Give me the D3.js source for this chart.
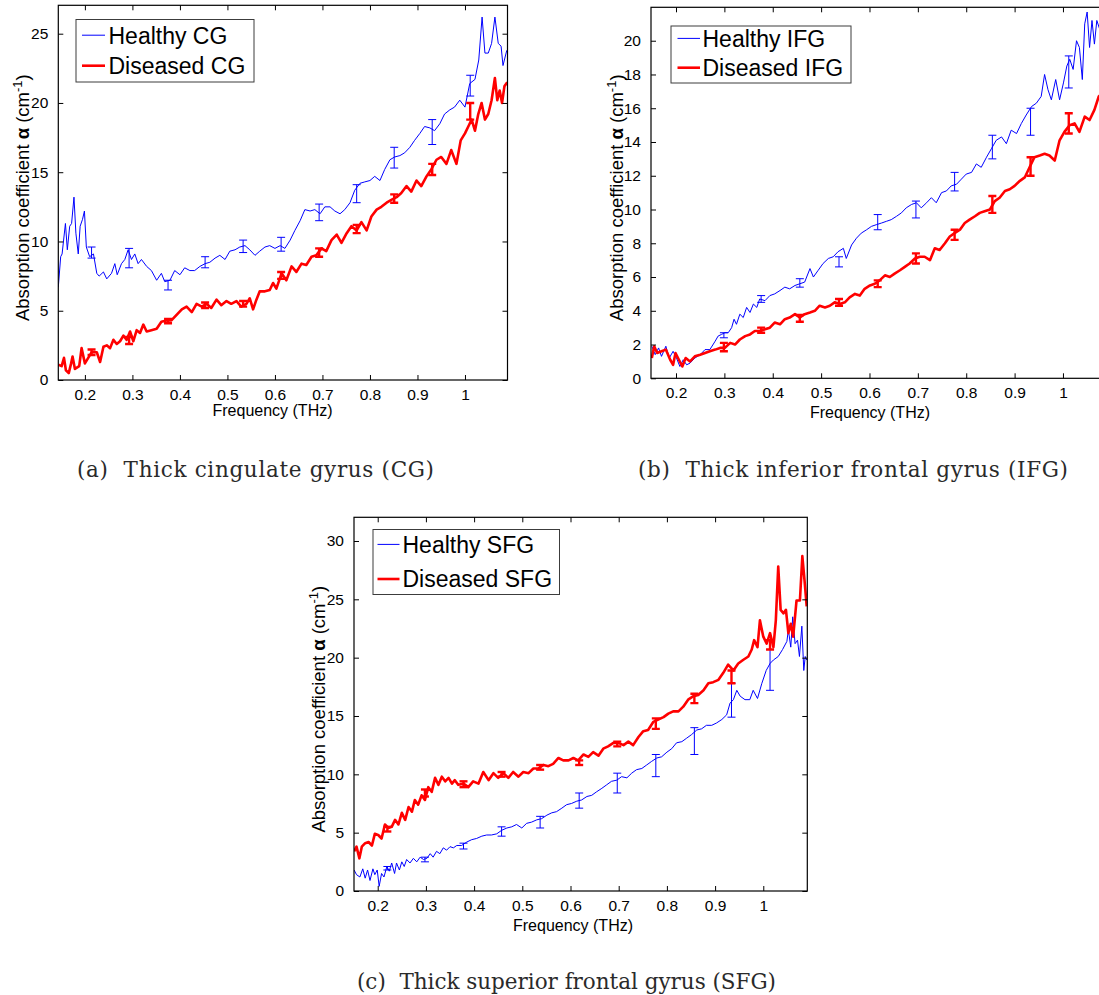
<!DOCTYPE html>
<html>
<head>
<meta charset="utf-8">
<script src="https://cdn.jsdelivr.net/npm/d3@7"></script>
<style>
  html, body { margin: 0; padding: 0; background: #fff; }
  svg { display: block; }
  text { font-family: "Liberation Sans", Arial, sans-serif; }
  .cap { font-family: "DejaVu Serif", "Liberation Serif", serif; white-space: pre; }
</style>
</head>
<body>
<svg id="chart" width="1099" height="995"></svg>
<script>
// ---------------- DATA ----------------
const xTicks = [0.2, 0.3, 0.4, 0.5, 0.6, 0.7, 0.8, 0.9, 1];
const xTickLabels = ["0.2", "0.3", "0.4", "0.5", "0.6", "0.7", "0.8", "0.9", "1"];
const yTicksCG = [0, 5, 10, 15, 20, 25];
const yTicksIFG = [0, 2, 4, 6, 8, 10, 12, 14, 16, 18, 20];
const yTicksSFG = [0, 5, 10, 15, 20, 25, 30];
const seriesNames = ["Healthy", "Diseased"];
const regions = ["CG", "IFG", "SFG"];
const captions = ["(a)  Thick cingulate gyrus (CG)", "(b)  Thick inferior frontal gyrus (IFG)", "(c)  Thick superior frontal gyrus (SFG)"];
const xLabel = "Frequency (THz)";

// [frequency THz, absorption coefficient cm^-1]
const healthyCG = [[0.144,6.7],[0.149,8.9],[0.152,9.1],[0.159,11.3],[0.163,9.4],[0.168,11.1],[0.172,11.3],[0.177,13.2],[0.181,10.6],[0.186,9.1],[0.19,11.1],[0.195,11.6],[0.199,12.2],[0.203,9.6],[0.21,8.9],[0.218,9.1],[0.225,7.7],[0.23,7.5],[0.239,7.8],[0.246,7.3],[0.256,7.7],[0.263,8.4],[0.268,7.6],[0.277,8.4],[0.284,8.7],[0.291,9.4],[0.298,8.7],[0.305,9.1],[0.312,8.4],[0.319,8.7],[0.33,8.2],[0.34,7.9],[0.351,7.2],[0.361,7.7],[0.368,7.1],[0.379,7.2],[0.389,7.9],[0.4,7.6],[0.41,8.1],[0.421,7.9],[0.431,7.9],[0.442,8.2],[0.453,8.4],[0.463,8.5],[0.474,8.8],[0.484,9.0],[0.495,8.7],[0.505,9.3],[0.516,9.4],[0.526,9.6],[0.537,9.7],[0.547,9.4],[0.558,9.0],[0.568,9.3],[0.579,9.6],[0.589,9.7],[0.6,9.5],[0.611,9.7],[0.621,9.5],[0.632,10.1],[0.642,10.8],[0.653,11.5],[0.663,12.3],[0.674,12.2],[0.684,12.3],[0.695,12.0],[0.705,12.5],[0.716,12.5],[0.726,12.2],[0.737,12.0],[0.747,12.3],[0.758,12.8],[0.768,13.7],[0.779,14.2],[0.789,14.3],[0.8,14.4],[0.81,14.7],[0.821,14.4],[0.831,15.2],[0.842,15.9],[0.852,16.1],[0.863,16.2],[0.873,16.4],[0.884,16.8],[0.894,17.3],[0.905,17.8],[0.915,18.3],[0.926,18.2],[0.936,18.0],[0.947,18.5],[0.957,19.2],[0.968,19.5],[0.978,19.7],[0.989,20.2],[1.0,19.7],[1.01,21.4],[1.021,21.7],[1.029,23.1],[1.036,26.2],[1.042,23.6],[1.049,23.6],[1.056,24.3],[1.063,26.2],[1.07,24.3],[1.076,24.1],[1.08,22.7],[1.088,23.8]];
const diseasedCG = [[0.144,1.1],[0.151,1.0],[0.156,1.6],[0.16,0.7],[0.166,0.5],[0.171,1.2],[0.174,1.7],[0.179,0.8],[0.188,1.0],[0.193,2.3],[0.2,1.2],[0.207,1.6],[0.214,2.0],[0.225,2.0],[0.232,1.3],[0.239,2.4],[0.246,2.5],[0.253,2.3],[0.26,2.9],[0.267,2.6],[0.274,2.8],[0.281,3.2],[0.288,2.9],[0.295,3.5],[0.302,2.8],[0.309,3.6],[0.316,3.4],[0.323,4.0],[0.33,3.5],[0.34,3.6],[0.351,3.7],[0.361,4.2],[0.372,4.3],[0.382,4.3],[0.393,4.7],[0.404,5.1],[0.414,5.3],[0.425,4.9],[0.435,5.5],[0.446,5.3],[0.456,5.5],[0.466,5.2],[0.477,5.8],[0.487,5.4],[0.498,5.7],[0.508,5.5],[0.519,5.7],[0.529,5.3],[0.54,5.5],[0.547,5.9],[0.554,5.1],[0.561,5.8],[0.568,6.4],[0.579,6.4],[0.589,6.5],[0.596,7.0],[0.603,6.6],[0.614,7.7],[0.624,7.2],[0.635,8.2],[0.645,7.8],[0.656,8.4],[0.666,8.3],[0.677,8.9],[0.687,9.0],[0.698,9.5],[0.708,9.3],[0.719,10.1],[0.73,10.5],[0.74,9.9],[0.751,10.6],[0.761,11.1],[0.772,10.8],[0.782,11.4],[0.793,10.8],[0.803,11.8],[0.814,12.3],[0.824,12.5],[0.835,12.8],[0.845,13.0],[0.856,13.2],[0.866,13.5],[0.877,14.0],[0.887,13.6],[0.898,14.4],[0.908,14.0],[0.919,14.7],[0.929,15.2],[0.94,15.9],[0.95,16.1],[0.961,15.6],[0.971,16.6],[0.982,15.6],[0.991,17.3],[1.0,17.8],[1.007,18.3],[1.014,18.8],[1.021,18.0],[1.028,19.2],[1.035,20.0],[1.042,18.8],[1.049,19.2],[1.056,20.2],[1.063,21.8],[1.068,20.2],[1.073,20.9],[1.078,20.0],[1.083,21.2],[1.089,21.5]];
const healthyIFG = [[0.15,1.9],[0.157,1.4],[0.164,1.8],[0.17,1.3],[0.179,1.9],[0.186,1.2],[0.194,1.6],[0.201,1.2],[0.208,0.7],[0.215,1.1],[0.222,0.8],[0.229,0.9],[0.239,1.2],[0.25,1.4],[0.26,1.7],[0.27,1.7],[0.281,2.2],[0.287,2.5],[0.294,2.6],[0.301,2.7],[0.308,2.7],[0.315,3.0],[0.32,3.5],[0.325,3.2],[0.332,3.8],[0.339,3.6],[0.346,4.2],[0.353,3.9],[0.36,4.4],[0.367,4.2],[0.373,4.7],[0.384,4.6],[0.394,4.9],[0.404,5.0],[0.415,5.2],[0.425,5.4],[0.435,5.3],[0.446,5.5],[0.456,5.6],[0.466,5.7],[0.477,6.5],[0.484,6.0],[0.494,6.4],[0.504,6.8],[0.515,7.1],[0.525,7.2],[0.535,7.5],[0.546,7.7],[0.552,7.1],[0.563,7.9],[0.573,8.3],[0.583,8.6],[0.594,8.8],[0.604,9.0],[0.614,9.1],[0.625,9.2],[0.635,9.3],[0.645,9.4],[0.656,9.6],[0.666,9.8],[0.676,10.1],[0.687,10.3],[0.697,10.4],[0.707,10.1],[0.718,10.4],[0.728,10.7],[0.738,10.4],[0.749,11.0],[0.759,11.1],[0.769,11.4],[0.78,11.5],[0.79,11.8],[0.8,12.1],[0.811,12.2],[0.821,12.7],[0.831,12.5],[0.842,13.1],[0.852,13.6],[0.862,14.1],[0.873,14.3],[0.883,13.9],[0.893,14.7],[0.904,14.5],[0.914,15.1],[0.924,15.6],[0.935,16.1],[0.945,16.3],[0.955,16.7],[0.962,18.0],[0.969,17.1],[0.976,16.5],[0.985,17.7],[0.993,16.5],[1.001,17.5],[1.008,18.5],[1.014,18.9],[1.021,18.3],[1.028,20.0],[1.034,19.6],[1.04,17.7],[1.045,21.0],[1.05,21.7],[1.055,19.6],[1.06,21.2],[1.065,19.8],[1.07,21.2],[1.078,20.5],[1.085,21.5]];
const diseasedIFG = [[0.15,1.2],[0.155,1.9],[0.161,1.5],[0.17,1.6],[0.179,1.7],[0.188,1.1],[0.194,0.8],[0.199,1.5],[0.206,1.1],[0.213,0.7],[0.22,1.2],[0.229,1.0],[0.239,1.3],[0.25,1.4],[0.26,1.5],[0.27,1.6],[0.281,1.7],[0.291,1.8],[0.301,1.8],[0.312,2.1],[0.322,2.0],[0.332,2.3],[0.343,2.5],[0.353,2.6],[0.363,2.8],[0.373,2.8],[0.384,2.9],[0.394,3.0],[0.404,3.3],[0.415,3.2],[0.425,3.5],[0.435,3.6],[0.446,3.8],[0.456,3.6],[0.466,3.8],[0.477,3.9],[0.487,4.0],[0.497,4.3],[0.508,4.2],[0.518,4.3],[0.528,4.5],[0.539,4.4],[0.549,4.5],[0.559,4.8],[0.57,5.0],[0.58,4.9],[0.59,5.3],[0.601,5.5],[0.611,5.6],[0.621,5.8],[0.632,6.1],[0.642,6.0],[0.652,6.2],[0.663,6.4],[0.673,6.6],[0.683,6.8],[0.694,7.1],[0.704,7.2],[0.714,7.2],[0.725,7.0],[0.735,7.7],[0.745,7.6],[0.756,8.0],[0.766,8.4],[0.776,8.6],[0.787,8.8],[0.797,9.2],[0.807,9.4],[0.818,9.6],[0.828,9.8],[0.838,9.9],[0.849,10.0],[0.859,10.5],[0.869,10.7],[0.88,11.1],[0.89,11.2],[0.9,11.4],[0.911,11.7],[0.921,11.9],[0.931,12.5],[0.941,13.1],[0.952,13.2],[0.962,13.3],[0.972,13.2],[0.983,12.9],[0.993,14.1],[1.003,14.6],[1.014,15.0],[1.024,15.1],[1.034,14.6],[1.045,15.5],[1.055,15.3],[1.065,15.9],[1.074,16.7],[1.085,17.0]];
const healthySFG = [[0.151,1.8],[0.156,1.4],[0.163,1.2],[0.169,1.9],[0.174,1.1],[0.179,1.8],[0.184,0.9],[0.19,1.9],[0.194,1.4],[0.199,1.8],[0.203,0.4],[0.208,1.5],[0.213,1.2],[0.219,2.1],[0.224,1.7],[0.229,2.4],[0.235,1.5],[0.239,2.4],[0.245,1.8],[0.25,2.5],[0.255,2.1],[0.26,2.7],[0.267,2.4],[0.274,2.8],[0.281,2.5],[0.288,2.9],[0.295,2.7],[0.302,2.8],[0.309,3.2],[0.315,2.9],[0.322,3.4],[0.329,3.2],[0.336,3.7],[0.343,3.5],[0.35,3.8],[0.357,3.7],[0.364,3.9],[0.374,3.9],[0.385,4.2],[0.395,4.4],[0.405,4.5],[0.416,4.7],[0.426,4.8],[0.436,4.8],[0.447,4.9],[0.457,5.2],[0.468,5.4],[0.478,5.5],[0.488,5.7],[0.499,5.4],[0.509,5.8],[0.519,5.9],[0.53,6.1],[0.54,6.2],[0.551,6.5],[0.561,6.7],[0.571,6.8],[0.582,7.1],[0.592,7.4],[0.602,7.5],[0.613,7.7],[0.623,7.8],[0.634,8.1],[0.644,8.2],[0.654,8.5],[0.665,8.8],[0.675,9.1],[0.685,9.4],[0.696,9.5],[0.706,9.8],[0.717,9.7],[0.727,10.1],[0.737,10.4],[0.748,10.5],[0.758,10.8],[0.768,11.1],[0.779,11.4],[0.789,11.5],[0.8,11.9],[0.81,12.2],[0.82,12.7],[0.831,12.8],[0.841,13.1],[0.851,13.4],[0.862,13.8],[0.872,13.9],[0.882,14.2],[0.893,14.2],[0.903,14.4],[0.914,14.7],[0.924,15.1],[0.931,16.1],[0.938,16.4],[0.945,17.2],[0.952,16.7],[0.962,16.4],[0.972,16.4],[0.979,17.2],[0.988,16.5],[0.997,17.8],[1.006,18.9],[1.014,19.5],[1.021,19.8],[1.031,20.1],[1.04,20.7],[1.049,21.4],[1.052,22.4],[1.057,20.9],[1.061,23.5],[1.066,21.2],[1.071,21.5],[1.075,20.1],[1.08,22.7],[1.084,18.9],[1.087,20.1],[1.09,19.8]];
const diseasedSFG = [[0.151,3.4],[0.156,3.8],[0.162,2.8],[0.167,3.8],[0.174,4.1],[0.181,4.2],[0.188,3.9],[0.194,4.9],[0.201,4.8],[0.208,4.5],[0.215,5.7],[0.222,5.4],[0.229,5.5],[0.236,6.1],[0.243,5.7],[0.25,6.7],[0.257,6.1],[0.264,7.2],[0.271,6.8],[0.277,7.8],[0.284,7.4],[0.291,8.2],[0.298,7.8],[0.305,8.9],[0.312,8.5],[0.319,9.7],[0.326,9.1],[0.333,9.8],[0.34,9.4],[0.347,9.7],[0.354,9.2],[0.36,9.5],[0.367,9.1],[0.378,9.2],[0.388,8.9],[0.398,9.4],[0.409,9.2],[0.419,10.2],[0.43,9.5],[0.44,10.1],[0.45,9.7],[0.461,10.1],[0.471,9.7],[0.481,10.2],[0.492,9.8],[0.502,10.2],[0.513,10.1],[0.523,10.5],[0.533,10.5],[0.544,10.8],[0.554,10.7],[0.564,10.9],[0.575,11.4],[0.585,11.2],[0.596,11.2],[0.606,11.4],[0.616,11.2],[0.627,11.7],[0.637,11.5],[0.647,11.9],[0.658,11.6],[0.668,12.2],[0.678,12.4],[0.689,12.7],[0.699,12.7],[0.71,12.5],[0.72,12.8],[0.73,12.5],[0.741,13.2],[0.751,13.7],[0.761,13.8],[0.772,14.5],[0.782,14.7],[0.793,14.9],[0.803,15.2],[0.813,15.4],[0.824,15.4],[0.834,15.8],[0.844,16.4],[0.855,16.7],[0.865,16.8],[0.876,17.2],[0.886,17.8],[0.896,17.9],[0.907,18.1],[0.917,18.7],[0.927,19.4],[0.938,18.9],[0.948,19.5],[0.958,19.8],[0.969,20.1],[0.976,20.7],[0.981,21.5],[0.988,20.9],[0.993,23.2],[1.0,21.8],[1.007,21.2],[1.014,22.1],[1.021,20.9],[1.026,23.2],[1.031,27.8],[1.036,24.1],[1.042,23.8],[1.047,24.1],[1.052,22.1],[1.057,22.9],[1.062,21.8],[1.069,24.9],[1.076,24.9],[1.081,28.7],[1.086,26.4],[1.09,24.4]];

// error bars: [frequency, lower, upper]
const healthyCGErr = [[0.214,8.8,9.6],[0.293,8.1,9.5],[0.375,6.5,7.2],[0.453,8.1,8.9],[0.533,9.2,10.1],[0.613,9.3,10.3],[0.693,11.5,12.7],[0.772,12.8,14.1],[0.851,15.3,16.8],[0.931,17.0,18.8],[1.011,20.5,22.0]];
const diseasedCGErr = [[0.214,1.8,2.2],[0.293,2.6,3.1],[0.375,4.1,4.4],[0.453,5.2,5.6],[0.533,5.3,5.7],[0.613,7.3,7.8],[0.693,8.9,9.5],[0.772,10.6,11.2],[0.851,12.8,13.4],[0.931,14.8,15.6],[1.011,18.8,20.0]];
const healthyIFGErr = [[0.299,2.4,2.7],[0.376,4.5,4.9],[0.456,5.4,5.9],[0.537,6.6,7.2],[0.617,8.8,9.7],[0.696,9.5,10.5],[0.776,11.1,12.2],[0.854,13.0,14.4],[0.933,14.4,16.0],[1.012,17.2,19.1]];
const diseasedIFGErr = [[0.299,1.6,2.1],[0.376,2.7,3.0],[0.456,3.35,3.75],[0.537,4.3,4.7],[0.617,5.4,5.8],[0.696,6.8,7.4],[0.776,8.2,8.8],[0.854,9.8,10.8],[0.933,12.0,13.1],[1.012,14.5,15.7]];
const healthySFGErr = [[0.22,1.8,2.1],[0.298,2.5,2.9],[0.378,3.6,4.1],[0.457,4.7,5.5],[0.537,5.4,6.4],[0.618,7.1,8.4],[0.697,8.4,10.1],[0.777,9.8,11.7],[0.857,11.7,14.0],[0.934,14.9,17.8],[1.014,17.2,20.7]];
const diseasedSFGErr = [[0.22,5.1,5.5],[0.298,8.1,8.7],[0.378,8.9,9.4],[0.457,9.8,10.2],[0.537,10.4,10.8],[0.618,10.8,11.2],[0.697,12.4,12.8],[0.777,13.9,14.8],[0.857,16.1,16.9],[0.934,17.8,18.9],[1.014,20.7,21.5]];

// ---------------- LAYOUT ----------------
const svg = d3.select("#chart");
svg.append("rect").attr("width", 1099).attr("height", 995).attr("fill", "#fff");

const panels = [
  { left: 58.3, right: 507.5, top: 5.3, bottom: 380, xDom: [0.144, 1.0895], yDom: [0, 27.05], yTicks: yTicksCG,
    healthy: healthyCG, diseased: diseasedCG, hErr: healthyCGErr, dErr: diseasedCGErr,
    leg: { x0: 76, x1: 254, y0: 19.5, y1: 82, lx0: 82, lx1: 105, tx: 108.5, b1: 43.5, b2: 74 },
    xlab: { x: 272.5, y: 416 }, ylabX: 23, cap: { x: 255.5, y: 477, w: 357 } },
  { left: 651, right: 1106.5, top: 7.3, bottom: 378.3, xDom: [0.1483, 1.09], yDom: [0, 21.98], yTicks: yTicksIFG,
    healthy: healthyIFG, diseased: diseasedIFG, hErr: healthyIFGErr, dErr: diseasedIFGErr,
    leg: { x0: 671, x1: 851, y0: 26, y1: 83, lx0: 677.5, lx1: 700, tx: 702.5, b1: 46.7, b2: 76 },
    xlab: { x: 870, y: 418 }, ylabX: 617, cap: { x: 853, y: 477, w: 430 } },
  { left: 354, right: 807.3, top: 517.3, bottom: 891, xDom: [0.1508, 1.0913], yDom: [0, 32.03], yTicks: yTicksSFG,
    healthy: healthySFG, diseased: diseasedSFG, hErr: healthySFGErr, dErr: diseasedSFGErr,
    leg: { x0: 373, x1: 559.5, y0: 529.5, y1: 594.5, lx0: 377.5, lx1: 399.5, tx: 402.5, b1: 552.7, b2: 587.3 },
    xlab: { x: 573, y: 931 }, ylabX: 319, cap: { x: 566.5, y: 989, w: 419 } }
];

panels.forEach((p, i) => {
  const x = d3.scaleLinear().domain(p.xDom).range([p.left, p.right]);
  const y = d3.scaleLinear().domain(p.yDom).range([p.bottom, p.top]);
  const g = svg.append("g");

  const clipId = "clip" + i;
  svg.append("clipPath").attr("id", clipId).append("rect")
    .attr("x", p.left).attr("y", p.top).attr("width", p.right - p.left).attr("height", p.bottom - p.top);

  const plot = g.append("g").attr("clip-path", `url(#${clipId})`);
  const line = d3.line().x(d => x(d[0])).y(d => y(d[1]));

  plot.append("path").datum(p.healthy).attr("d", line)
    .attr("fill", "none").attr("stroke", "#0000ff").attr("stroke-width", 1).attr("stroke-linejoin", "round");
  plot.append("path").datum(p.diseased).attr("d", line)
    .attr("fill", "none").attr("stroke", "#ff0000").attr("stroke-width", 2.6).attr("stroke-linejoin", "round");

  function errBars(data, color, w) {
    const eg = plot.append("g").attr("stroke", color).attr("stroke-width", w).attr("fill", "none");
    data.forEach(d => {
      const cx = x(d[0]);
      eg.append("line").attr("x1", cx).attr("x2", cx).attr("y1", y(d[1])).attr("y2", y(d[2]));
      eg.append("line").attr("x1", cx - 4).attr("x2", cx + 4).attr("y1", y(d[1])).attr("y2", y(d[1]));
      eg.append("line").attr("x1", cx - 4).attr("x2", cx + 4).attr("y1", y(d[2])).attr("y2", y(d[2]));
    });
  }
  errBars(p.hErr, "#0000ff", 1);
  errBars(p.dErr, "#ff0000", 2.4);

  // axes (box with inward ticks on all sides)
  const tl = 5;
  const axB = d3.axisBottom(x).tickValues(xTicks).tickFormat((d, k) => xTickLabels[k]).tickSizeInner(-tl).tickSizeOuter(0).tickPadding(9);
  const axT = d3.axisTop(x).tickValues(xTicks).tickFormat("").tickSizeInner(-tl).tickSizeOuter(0);
  const axL = d3.axisLeft(y).tickValues(p.yTicks).tickFormat(d3.format("d")).tickSizeInner(-tl).tickSizeOuter(0).tickPadding(10);
  const axR = d3.axisRight(y).tickValues(p.yTicks).tickFormat("").tickSizeInner(-tl).tickSizeOuter(0);

  const styleAx = sel => {
    sel.select(".domain").remove();
    sel.selectAll(".tick line").attr("stroke", "#000").attr("stroke-width", 1);
    sel.selectAll(".tick text").attr("fill", "#000").attr("font-size", 15.5).attr("font-family", "Liberation Sans, Arial, sans-serif");
  };
  g.append("g").attr("transform", `translate(0,${p.bottom})`).call(axB).call(styleAx);
  g.append("g").attr("transform", `translate(0,${p.top})`).call(axT).call(styleAx);
  g.append("g").attr("transform", `translate(${p.left},0)`).call(axL).call(styleAx);
  g.append("g").attr("transform", `translate(${p.right},0)`).call(axR).call(styleAx);

  g.append("rect").attr("x", p.left).attr("y", p.top).attr("width", p.right - p.left).attr("height", p.bottom - p.top)
    .attr("fill", "none").attr("stroke", "#000").attr("stroke-width", 1.2);

  // legend
  const L = p.leg;
  g.append("rect").attr("x", L.x0).attr("y", L.y0).attr("width", L.x1 - L.x0).attr("height", L.y1 - L.y0)
    .attr("fill", "#fff").attr("stroke", "#3c3c3c").attr("stroke-width", 1);
  [[seriesNames[0], L.b1, "#0000ff", 1], [seriesNames[1], L.b2, "#ff0000", 2.6]].forEach(([nm, b, c, w]) => {
    g.append("line").attr("x1", L.lx0).attr("x2", L.lx1).attr("y1", b - 8.3).attr("y2", b - 8.3)
      .attr("stroke", c).attr("stroke-width", w);
    g.append("text").attr("x", L.tx).attr("y", b).attr("font-size", 23).attr("fill", "#000")
      .text(nm + " " + regions[i]);
  });

  // x label
  g.append("text").attr("x", p.xlab.x).attr("y", p.xlab.y).attr("text-anchor", "middle")
    .attr("font-size", 16).attr("fill", "#000").text(xLabel);

  // y label
  const yc = (p.top + p.bottom) / 2 + 5;
  const yl = g.append("text").attr("transform", `translate(${p.ylabX + 6},${yc}) rotate(-90)`)
    .attr("text-anchor", "middle").attr("font-size", 18.5).attr("fill", "#000");
  yl.append("tspan").text("Absorption coefficient ");
  yl.append("tspan").attr("font-weight", "bold").text("α");
  yl.append("tspan").text(" (cm");
  yl.append("tspan").attr("font-size", 13).attr("dy", -7).text("-1");
  yl.append("tspan").attr("dy", 7).text(")");

  // caption
  svg.append("text").attr("class", "cap").attr("x", p.cap.x - p.cap.w / 2).attr("y", p.cap.y)
    .attr("font-size", 21.5).attr("fill", "#2a2a2a")
    .attr("textLength", p.cap.w).attr("lengthAdjust", "spacing")
    .text(captions[i]);
});
</script>
</body>
</html>
